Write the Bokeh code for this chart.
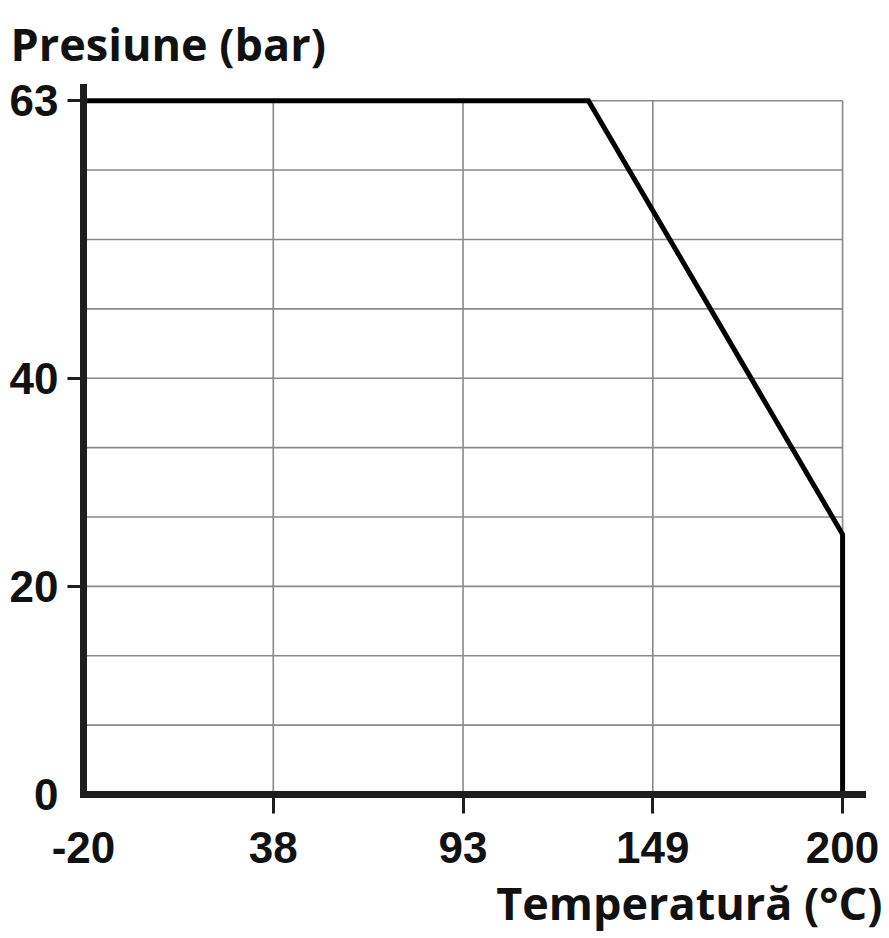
import numpy as np
from bokeh.plotting import figure
from bokeh.models import FixedTicker, Range1d, Title
from bokeh.embed import file_html
from bokeh.resources import INLINE

# ---- data -------------------------------------------------------------
# tick values (real units); the chart places them at evenly spaced slots
temp_ticks = [-20, 38, 93, 149, 200]
temp_slots = [0, 1, 2, 3, 4]
pressure_ticks = [0, 20, 40, 63]
pressure_slots = [0, 3, 6, 10]
n_rows = 10  # horizontal grid rows

# pressure / temperature rating curve
curve_temp = [-20, 130, 200, 200]
curve_pressure = [63, 63, 25, 0]

x_pos = np.interp(curve_temp, temp_ticks, temp_slots)
y_pos = np.interp(curve_pressure, pressure_ticks, pressure_slots)

# ---- figure -----------------------------------------------------------
AX = "#1e1e1e"
GRID = "#8a8a8a"
X_END, Y_END = 4.105, 10.19

p = figure(width=889, height=938, output_backend="svg", toolbar_location=None,
           x_range=Range1d(0, X_END), y_range=Range1d(0, Y_END),
           min_border_left=83, min_border_right=27,
           min_border_top=87, min_border_bottom=144,
           background_fill_color="white", border_fill_color="white",
           outline_line_color=None)
p.grid.visible = False

# grid
rows = list(range(1, n_rows + 1))
p.segment(x0=temp_slots[0], y0=rows, x1=temp_slots[-1], y1=rows,
          line_color=GRID, line_width=1.6)
p.segment(x0=temp_slots[1:], y0=pressure_slots[0], x1=temp_slots[1:], y1=pressure_slots[-1],
          line_color=GRID, line_width=1.6)

# curve
p.line(x_pos, y_pos, line_color="black", line_width=5, line_join="miter")

# axes
xa = p.xaxis[0]
ya = p.yaxis[0]
xa.ticker = FixedTicker(ticks=temp_slots, minor_ticks=temp_slots[1:])
xa.major_label_overrides = {s: str(t) for s, t in zip(temp_slots, temp_ticks)}
ya.ticker = FixedTicker(ticks=pressure_slots, minor_ticks=pressure_slots[1:])
ya.major_label_overrides = {s: str(t) for s, t in zip(pressure_slots, pressure_ticks)}

for ax in (xa, ya):
    ax.axis_line_color = AX
    ax.axis_line_width = 7
    ax.axis_line_cap = "square"
    ax.major_tick_line_color = None
    ax.major_tick_in = 0
    ax.minor_tick_line_color = AX
    ax.minor_tick_line_width = 3
    ax.minor_tick_in = 0
    ax.major_label_text_font = "Liberation Sans"
    ax.major_label_text_font_style = "bold"
    ax.major_label_text_font_size = "44px"
    ax.major_label_text_color = "#111111"

xa.major_tick_out = 19
xa.minor_tick_out = 19
xa.major_label_standoff = 18
ya.major_tick_out = 16
ya.minor_tick_out = 16
ya.major_label_standoff = 9

# axis titles
title_style = dict(text_font="Open Sans", text_font_style="bold",
                   text_font_size="45px", text_color="#111111")
p.title.text = "Presiune (bar)"
p.title.align = "left"
p.title.vertical_align = "top"
p.title.offset = -73
p.title.standoff = 24
for k, v in title_style.items():
    setattr(p.title, k, v)

xt = Title(text="Temperatură (°C)", align="right", vertical_align="bottom",
           offset=-20, standoff=9, **title_style)
p.add_layout(xt, "below")

open("out.html", "w").write(file_html(p, INLINE))
